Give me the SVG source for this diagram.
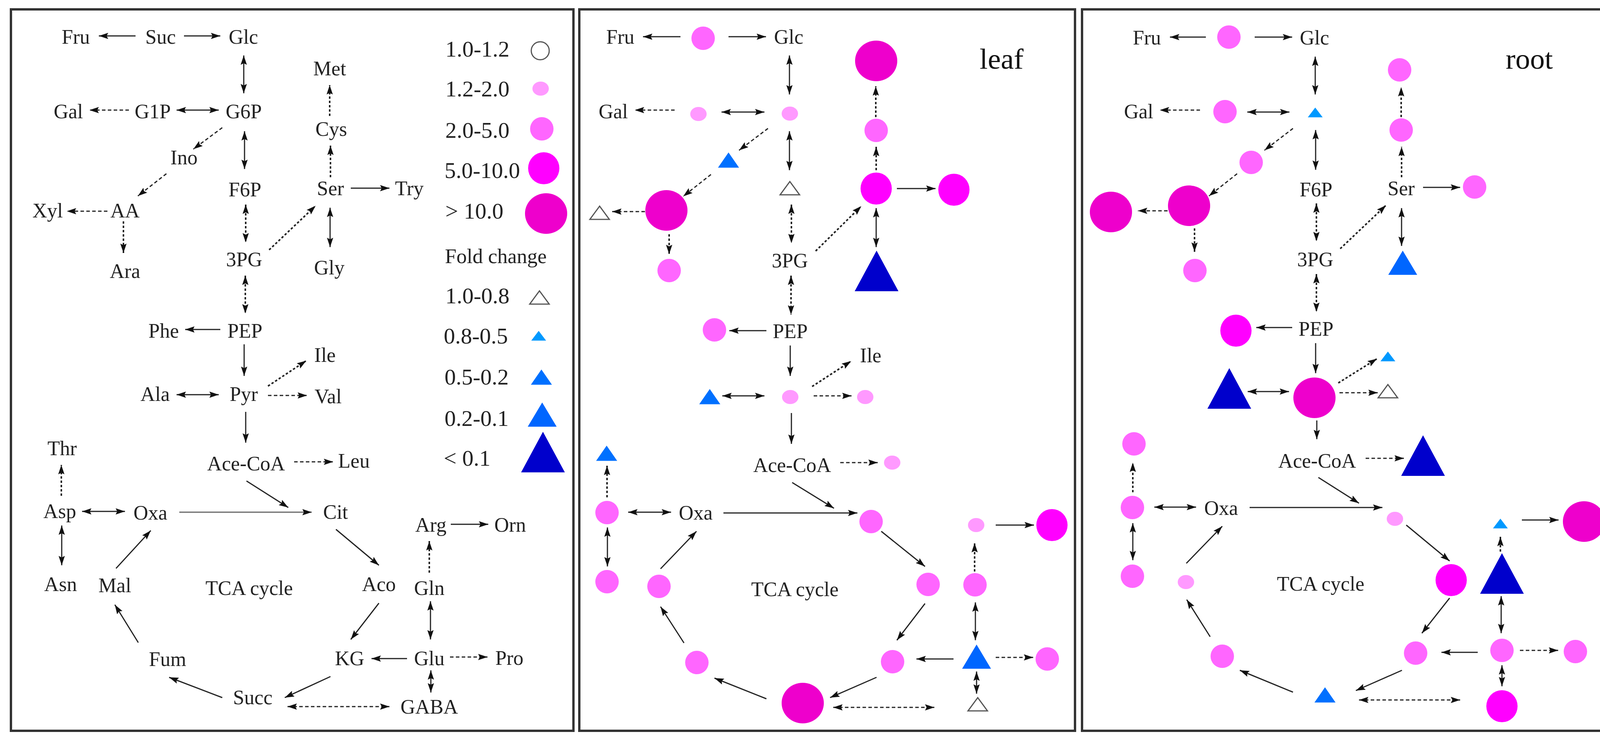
<svg xmlns="http://www.w3.org/2000/svg" xmlns:xlink="http://www.w3.org/1999/xlink" width="4151" height="1893" viewBox="0 0 4151 1893">
<style>
.t{font-family:"Liberation Serif","Times New Roman",serif;font-size:52px;fill:#222;text-anchor:middle}
.lg{font-family:"Liberation Serif","Times New Roman",serif;font-size:58px;fill:#222}
.fc{font-family:"Liberation Serif","Times New Roman",serif;font-size:53px;fill:#222}
.big{font-family:"Liberation Serif","Times New Roman",serif;font-size:75px;fill:#111;text-anchor:middle}
.panel{fill:#fff;stroke:#333;stroke-width:6}
line{stroke:#222;stroke-width:3;fill:none}
.g{stroke:#666}
.d{stroke-dasharray:9 6}
.o{stroke-dasharray:6 5;stroke-width:4}
.a{marker-end:url(#ah)}
.b{marker-start:url(#ah);marker-end:url(#ah)}
</style>
<defs>
<marker id="ah" viewBox="0 0 24 16" refX="24" refY="8" markerWidth="24" markerHeight="16" markerUnits="userSpaceOnUse" orient="auto-start-reverse">
<path d="M0,0 L24,8 L0,16 L4,8 z" fill="#111" stroke="none"/>
</marker>
<ellipse id="c1" rx="23" ry="23" fill="#fff" stroke="#555" stroke-width="3"/>
<ellipse id="c2" rx="21" ry="18" fill="#ff99ff"/>
<ellipse id="c3" rx="30" ry="30" fill="#ff66ff"/>
<ellipse id="c4" rx="40" ry="41" fill="#ff00ff"/>
<ellipse id="c5" rx="54" ry="52" fill="#ee00cc"/>
<polygon id="t0" points="-25,17 25,17 0,-17" fill="#fff" stroke="#555" stroke-width="3"/>
<polygon id="t1" points="-19,12.5 19,12.5 0,-12.5" fill="#0099ff"/>
<polygon id="t2" points="-27,19.5 27,19.5 0,-19.5" fill="#0070ff"/>
<polygon id="t3" points="-37,31 37,31 0,-31" fill="#0066ff"/>
<polygon id="t4" points="-56,52 56,52 0,-52" fill="#0000cc"/>
</defs>
<rect width="4151" height="1893" fill="#fff"/>
<rect class="panel" x="28" y="24" width="1440" height="1848"/>
<rect class="panel" x="1483" y="24" width="1269" height="1848"/>
<rect class="panel" x="2770" y="24" width="1356" height="1848"/>

<!-- ================= PANEL 1 ================= -->
<g id="p1-nodes">
<g id="p1-Fru"><text class="t" x="194" y="112">Fru</text></g>
<g id="p1-Suc"><text class="t" x="411" y="112">Suc</text></g>
<g id="p1-Glc"><text class="t" x="623" y="112">Glc</text></g>
<g id="p1-Gal"><text class="t" x="175" y="303">Gal</text></g>
<g id="p1-G1P"><text class="t" x="391" y="303">G1P</text></g>
<g id="p1-G6P"><text class="t" x="624" y="303">G6P</text></g>
<g id="p1-Ino"><text class="t" x="471" y="421">Ino</text></g>
<g id="p1-F6P"><text class="t" x="627" y="503">F6P</text></g>
<g id="p1-AA"><text class="t" x="320" y="557">AA</text></g>
<g id="p1-Xyl"><text class="t" x="122" y="557">Xyl</text></g>
<g id="p1-Ara"><text class="t" x="320" y="712">Ara</text></g>
<g id="p1-3PG"><text class="t" x="625" y="682">3PG</text></g>
<g id="p1-PEP"><text class="t" x="627" y="865">PEP</text></g>
<g id="p1-Phe"><text class="t" x="419" y="865">Phe</text></g>
<g id="p1-Met"><text class="t" x="844" y="193">Met</text></g>
<g id="p1-Cys"><text class="t" x="848" y="348">Cys</text></g>
<g id="p1-Ser"><text class="t" x="846" y="500">Ser</text></g>
<g id="p1-Try"><text class="t" x="1048" y="500">Try</text></g>
<g id="p1-Gly"><text class="t" x="843" y="703">Gly</text></g>
<g id="p1-Ile"><text class="t" x="832" y="927">Ile</text></g>
<g id="p1-Val"><text class="t" x="840" y="1033">Val</text></g>
<g id="p1-Ala"><text class="t" x="397" y="1027">Ala</text></g>
<g id="p1-Pyr"><text class="t" x="624" y="1027">Pyr</text></g>
<g id="p1-AceCoA"><text class="t" x="630" y="1205">Ace-CoA</text></g>
<g id="p1-Leu"><text class="t" x="906" y="1198">Leu</text></g>
<g id="p1-Thr"><text class="t" x="159" y="1166">Thr</text></g>
<g id="p1-Asp"><text class="t" x="153" y="1327">Asp</text></g>
<g id="p1-Oxa"><text class="t" x="385" y="1331">Oxa</text></g>
<g id="p1-Cit"><text class="t" x="859" y="1329">Cit</text></g>
<g id="p1-Asn"><text class="t" x="155" y="1514">Asn</text></g>
<g id="p1-Mal"><text class="t" x="294" y="1517">Mal</text></g>
<g id="p1-TCA"><text class="t" x="638" y="1524">TCA cycle</text></g>
<g id="p1-Aco"><text class="t" x="970" y="1514">Aco</text></g>
<g id="p1-Gln"><text class="t" x="1099" y="1524">Gln</text></g>
<g id="p1-Arg"><text class="t" x="1103" y="1362">Arg</text></g>
<g id="p1-Orn"><text class="t" x="1306" y="1362">Orn</text></g>
<g id="p1-KG"><text class="t" x="895" y="1704">KG</text></g>
<g id="p1-Glu"><text class="t" x="1099" y="1704">Glu</text></g>
<g id="p1-Pro"><text class="t" x="1304" y="1703">Pro</text></g>
<g id="p1-Fum"><text class="t" x="429" y="1706">Fum</text></g>
<g id="p1-Succ"><text class="t" x="647" y="1804">Succ</text></g>
<g id="p1-GABA"><text class="t" x="1099" y="1828">GABA</text></g>
</g>

<g id="legend">
<text class="lg" x="1140" y="145">1.0-1.2</text><use href="#c1" x="1383" y="130"/>
<text class="lg" x="1140" y="247">1.2-2.0</text><use href="#c2" x="1384" y="227"/>
<text class="lg" x="1140" y="353">2.0-5.0</text><use href="#c3" x="1387" y="330"/>
<text class="lg" x="1138" y="456">5.0-10.0</text><use href="#c4" x="1392" y="431"/>
<text class="lg" x="1140" y="560">&gt; 10.0</text><use href="#c5" x="1398" y="547"/>
<text class="fc" x="1139" y="674">Fold change</text>
<text class="lg" x="1140" y="777">1.0-0.8</text><use href="#t0" x="1381" y="762"/>
<text class="lg" x="1136" y="880">0.8-0.5</text><use href="#t1" x="1379" y="860"/>
<text class="lg" x="1138" y="985">0.5-0.2</text><use href="#t2" x="1386" y="966"/>
<text class="lg" x="1138" y="1091">0.2-0.1</text><use href="#t3" x="1388" y="1062"/>
<text class="lg" x="1136" y="1193">&lt; 0.1</text><use href="#t4" x="1390" y="1158"/>
</g>

<!-- ================= PANEL 2 (leaf) ================= -->
<g id="p2-nodes">
<g id="p2-label"><text class="big" x="2564" y="176">leaf</text></g>
<g id="p2-Fru"><text class="t" x="1588" y="112">Fru</text></g>
<g id="p2-Suc"><use href="#c3" x="1800" y="98"/></g>
<g id="p2-Glc"><text class="t" x="2019" y="112">Glc</text></g>
<g id="p2-Gal"><text class="t" x="1570" y="303">Gal</text></g>
<g id="p2-G1P"><use href="#c2" x="1788" y="292"/></g>
<g id="p2-G6P"><use href="#c2" x="2022" y="291"/></g>
<g id="p2-Ino"><use href="#t2" x="1865" y="410"/></g>
<g id="p2-AA"><use href="#c5" x="1706" y="539"/></g>
<g id="p2-Xyl"><use href="#t0" x="1535" y="545"/></g>
<g id="p2-Ara"><use href="#c3" x="1713" y="693"/></g>
<g id="p2-F6P"><use href="#t0" x="2022" y="482"/></g>
<g id="p2-3PG"><text class="t" x="2022" y="685">3PG</text></g>
<g id="p2-PEP"><text class="t" x="2023" y="866">PEP</text></g>
<g id="p2-Phe"><use href="#c3" x="1829" y="845"/></g>
<g id="p2-Met"><use href="#c5" x="2243" y="156"/></g>
<g id="p2-Cys"><use href="#c3" x="2243" y="334"/></g>
<g id="p2-Ser"><use href="#c4" x="2243" y="483"/></g>
<g id="p2-Try"><use href="#c4" x="2442" y="486"/></g>
<g id="p2-Gly"><use href="#t4" x="2244" y="694"/></g>
<g id="p2-Pyr"><use href="#c2" x="2023" y="1017"/></g>
<g id="p2-Ala"><use href="#t2" x="1817" y="1016"/></g>
<g id="p2-Ile"><text class="t" x="2229" y="928">Ile</text></g>
<g id="p2-Val"><use href="#c2" x="2215" y="1017"/></g>
<g id="p2-AceCoA"><text class="t" x="2028" y="1209">Ace-CoA</text></g>
<g id="p2-Leu"><use href="#c2" x="2284" y="1185"/></g>
<g id="p2-Thr"><use href="#t2" x="1553" y="1161"/></g>
<g id="p2-Asp"><use href="#c3" x="1554" y="1313"/></g>
<g id="p2-Oxa"><text class="t" x="1781" y="1331">Oxa</text></g>
<g id="p2-Asn"><use href="#c3" x="1554" y="1490"/></g>
<g id="p2-Mal"><use href="#c3" x="1687" y="1502"/></g>
<g id="p2-TCA"><text class="t" x="2035" y="1527">TCA cycle</text></g>
<g id="p2-Fum"><use href="#c3" x="1784" y="1697"/></g>
<g id="p2-Succ"><use href="#c5" x="2055" y="1801"/></g>
<g id="p2-Cit"><use href="#c3" x="2230" y="1336"/></g>
<g id="p2-Aco"><use href="#c3" x="2376" y="1497"/></g>
<g id="p2-KG"><use href="#c3" x="2285" y="1695"/></g>
<g id="p2-Glu"><use href="#t3" x="2500" y="1682"/></g>
<g id="p2-Pro"><use href="#c3" x="2681" y="1688"/></g>
<g id="p2-Gln"><use href="#c3" x="2496" y="1498"/></g>
<g id="p2-Arg"><use href="#c2" x="2499" y="1345"/></g>
<g id="p2-Orn"><use href="#c4" x="2693" y="1345"/></g>
<g id="p2-GABA"><use href="#t0" x="2503" y="1804"/></g>
</g>

<!-- ================= PANEL 3 (root) ================= -->
<g id="p3-nodes">
<g id="p3-label"><text class="big" x="3915" y="176">root</text></g>
<g id="p3-Fru"><text class="t" x="2936" y="114">Fru</text></g>
<g id="p3-Suc"><use href="#c3" x="3146" y="95"/></g>
<g id="p3-Glc"><text class="t" x="3365" y="114">Glc</text></g>
<g id="p3-Gal"><text class="t" x="2915" y="303">Gal</text></g>
<g id="p3-G1P"><use href="#c3" x="3136" y="286"/></g>
<g id="p3-G6P"><use href="#t1" x="3367" y="288"/></g>
<g id="p3-Ino"><use href="#c3" x="3203" y="416"/></g>
<g id="p3-AA"><use href="#c5" x="3044" y="527"/></g>
<g id="p3-Xyl"><use href="#c5" x="2844" y="543"/></g>
<g id="p3-Ara"><use href="#c3" x="3059" y="693"/></g>
<g id="p3-F6P"><text class="t" x="3369" y="503">F6P</text></g>
<g id="p3-3PG"><text class="t" x="3367" y="682">3PG</text></g>
<g id="p3-PEP"><text class="t" x="3369" y="860">PEP</text></g>
<g id="p3-Phe"><use href="#c4" x="3164" y="847"/></g>
<g id="p3-Met"><use href="#c3" x="3583" y="179"/></g>
<g id="p3-Cys"><use href="#c3" x="3587" y="333"/></g>
<g id="p3-Ser"><text class="t" x="3587" y="500">Ser</text></g>
<g id="p3-Try"><use href="#c3" x="3775" y="479"/></g>
<g id="p3-Gly"><use href="#t3" x="3591" y="673"/></g>
<g id="p3-Pyr"><use href="#c5" x="3365" y="1019"/></g>
<g id="p3-Ala"><use href="#t4" x="3147" y="995"/></g>
<g id="p3-Ile"><use href="#t1" x="3553" y="913"/></g>
<g id="p3-Val"><use href="#t0" x="3553" y="1002"/></g>
<g id="p3-AceCoA"><text class="t" x="3372" y="1198">Ace-CoA</text></g>
<g id="p3-Leu"><use href="#t4" x="3643" y="1167"/></g>
<g id="p3-Thr"><use href="#c3" x="2903" y="1137"/></g>
<g id="p3-Asp"><use href="#c3" x="2899" y="1300"/></g>
<g id="p3-Oxa"><text class="t" x="3126" y="1319">Oxa</text></g>
<g id="p3-Asn"><use href="#c3" x="2899" y="1476"/></g>
<g id="p3-Mal"><use href="#c2" x="3036" y="1491"/></g>
<g id="p3-TCA"><text class="t" x="3381" y="1513">TCA cycle</text></g>
<g id="p3-Fum"><use href="#c3" x="3129" y="1681"/></g>
<g id="p3-Succ"><use href="#t2" x="3392" y="1780"/></g>
<g id="p3-Cit"><use href="#c2" x="3571" y="1329"/></g>
<g id="p3-Aco"><use href="#c4" x="3715" y="1486"/></g>
<g id="p3-KG"><use href="#c3" x="3624" y="1673"/></g>
<g id="p3-Glu"><use href="#c3" x="3845" y="1666"/></g>
<g id="p3-Pro"><use href="#c3" x="4033" y="1669"/></g>
<g id="p3-Gln"><use href="#t4" x="3845" y="1469"/></g>
<g id="p3-Arg"><use href="#t1" x="3841" y="1341"/></g>
<g id="p3-Orn"><use href="#c5" x="4055" y="1336"/></g>
<g id="p3-GABA"><use href="#c4" x="3845" y="1809"/></g>
</g>

<!-- ================= CONNECTORS ================= -->
<g id="connectors">
<!-- panel 1 -->
<line class="a" x1="347" y1="92" x2="253" y2="92"/>
<line class="a" x1="471" y1="92" x2="564" y2="92"/>
<line class="b" x1="624" y1="142" x2="624" y2="239"/>
<line class="a d" x1="330" y1="282" x2="229" y2="282"/>
<line class="b" x1="452" y1="282" x2="560" y2="282"/>
<line class="a d" x1="569" y1="327" x2="495" y2="382"/>
<line class="a d" x1="426" y1="445" x2="353" y2="502"/>
<line class="a d" x1="275" y1="541" x2="171" y2="541"/>
<line class="a o" x1="316" y1="567" x2="316" y2="648"/>
<line class="b" x1="626" y1="336" x2="626" y2="433"/>
<line class="b o" x1="629" y1="524" x2="629" y2="621"/>
<line class="a o" x1="689" y1="640" x2="808" y2="527"/>
<line class="b o" x1="628" y1="706" x2="628" y2="803"/>
<line class="a" x1="564" y1="844" x2="474" y2="844"/>
<line class="a" x1="625" y1="882" x2="625" y2="963"/>
<line class="a o" x1="846" y1="454" x2="846" y2="373"/>
<line class="a o" x1="844" y1="297" x2="844" y2="218"/>
<line class="a" x1="898" y1="482" x2="997" y2="482"/>
<line class="b" x1="845" y1="532" x2="845" y2="633"/>
<line class="b" x1="452" y1="1011" x2="560" y2="1011"/>
<line class="a o" x1="686" y1="989" x2="784" y2="924"/>
<line class="a d" x1="686" y1="1013" x2="786" y2="1013"/>
<line class="a" x1="629" y1="1055" x2="629" y2="1134"/>
<line class="a d" x1="753" y1="1183" x2="853" y2="1183"/>
<line class="a" x1="631" y1="1232" x2="738" y2="1300"/>
<line class="a g" x1="459" y1="1312" x2="798" y2="1312"/>
<line class="a o" x1="157" y1="1270" x2="157" y2="1191"/>
<line class="b" x1="210" y1="1310" x2="320" y2="1310"/>
<line class="b" x1="158" y1="1346" x2="158" y2="1448"/>
<line class="a" x1="297" y1="1456" x2="386" y2="1359"/>
<line class="a" x1="354" y1="1646" x2="294" y2="1549"/>
<line class="a" x1="569" y1="1787" x2="433" y2="1735"/>
<line class="a" x1="846" y1="1733" x2="729" y2="1787"/>
<line class="a" x1="970" y1="1545" x2="898" y2="1638"/>
<line class="a" x1="860" y1="1356" x2="970" y2="1448"/>
<line class="a" x1="1042" y1="1687" x2="951" y2="1687"/>
<line class="a d" x1="1152" y1="1683" x2="1248" y2="1683"/>
<line class="b" x1="1102" y1="1540" x2="1102" y2="1638"/>
<line class="a o" x1="1099" y1="1467" x2="1099" y2="1386"/>
<line class="a" x1="1154" y1="1343" x2="1250" y2="1343"/>
<line class="b" x1="1103" y1="1717" x2="1103" y2="1774"/>
<line class="b d" x1="736" y1="1810" x2="997" y2="1810"/>
<!-- panel 2 -->
<line class="a" x1="1742" y1="94" x2="1646" y2="94"/>
<line class="a" x1="1865" y1="94" x2="1961" y2="94"/>
<line class="b" x1="2021" y1="142" x2="2021" y2="242"/>
<line class="a d" x1="1727" y1="282" x2="1625" y2="282"/>
<line class="b" x1="1847" y1="287" x2="1957" y2="287"/>
<line class="a d" x1="1966" y1="329" x2="1892" y2="385"/>
<line class="a d" x1="1820" y1="447" x2="1749" y2="503"/>
<line class="a d" x1="1651" y1="542" x2="1567" y2="542"/>
<line class="a o" x1="1713" y1="600" x2="1713" y2="651"/>
<line class="b" x1="2021" y1="336" x2="2021" y2="436"/>
<line class="b o" x1="2026" y1="524" x2="2026" y2="623"/>
<line class="a o" x1="2088" y1="643" x2="2205" y2="528"/>
<line class="b o" x1="2025" y1="706" x2="2025" y2="806"/>
<line class="a" x1="1962" y1="847" x2="1867" y2="847"/>
<line class="a" x1="2023" y1="885" x2="2023" y2="963"/>
<line class="a o" x1="2243" y1="436" x2="2243" y2="376"/>
<line class="a o" x1="2242" y1="300" x2="2242" y2="221"/>
<line class="a" x1="2296" y1="483" x2="2395" y2="483"/>
<line class="b" x1="2243" y1="533" x2="2243" y2="633"/>
<line class="b" x1="1849" y1="1014" x2="1957" y2="1014"/>
<line class="a o" x1="2079" y1="990" x2="2179" y2="925"/>
<line class="a d" x1="2083" y1="1014" x2="2180" y2="1014"/>
<line class="a" x1="2026" y1="1058" x2="2026" y2="1137"/>
<line class="a d" x1="2151" y1="1185" x2="2247" y2="1185"/>
<line class="a" x1="2028" y1="1236" x2="2135" y2="1302"/>
<line class="a" x1="1852" y1="1314" x2="2195" y2="1314"/>
<line class="a o" x1="1554" y1="1274" x2="1554" y2="1193"/>
<line class="b" x1="1608" y1="1312" x2="1718" y2="1312"/>
<line class="b" x1="1555" y1="1351" x2="1555" y2="1451"/>
<line class="a" x1="1691" y1="1457" x2="1783" y2="1361"/>
<line class="a" x1="1751" y1="1647" x2="1691" y2="1554"/>
<line class="a" x1="1962" y1="1790" x2="1829" y2="1737"/>
<line class="a" x1="2244" y1="1735" x2="2125" y2="1787"/>
<line class="a" x1="2368" y1="1546" x2="2296" y2="1640"/>
<line class="a" x1="2256" y1="1361" x2="2368" y2="1451"/>
<line class="a" x1="2441" y1="1688" x2="2346" y2="1688"/>
<line class="a d" x1="2549" y1="1684" x2="2645" y2="1684"/>
<line class="b" x1="2497" y1="1543" x2="2497" y2="1640"/>
<line class="a o" x1="2495" y1="1464" x2="2495" y2="1391"/>
<line class="a" x1="2549" y1="1345" x2="2647" y2="1345"/>
<line class="b" x1="2500" y1="1720" x2="2500" y2="1777"/>
<line class="b d" x1="2133" y1="1812" x2="2392" y2="1812"/>
<!-- panel 3 -->
<line class="a" x1="3087" y1="95" x2="2995" y2="95"/>
<line class="a" x1="3212" y1="95" x2="3308" y2="95"/>
<line class="b" x1="3367" y1="145" x2="3367" y2="242"/>
<line class="a d" x1="3072" y1="282" x2="2969" y2="282"/>
<line class="b" x1="3193" y1="287" x2="3301" y2="287"/>
<line class="a d" x1="3310" y1="329" x2="3237" y2="385"/>
<line class="a d" x1="3167" y1="445" x2="3095" y2="502"/>
<line class="a d" x1="2989" y1="540" x2="2913" y2="540"/>
<line class="a o" x1="3058" y1="585" x2="3058" y2="645"/>
<line class="b" x1="3368" y1="333" x2="3368" y2="435"/>
<line class="b o" x1="3370" y1="521" x2="3370" y2="618"/>
<line class="a o" x1="3431" y1="637" x2="3548" y2="526"/>
<line class="b o" x1="3370" y1="702" x2="3370" y2="799"/>
<line class="a" x1="3308" y1="839" x2="3216" y2="839"/>
<line class="a" x1="3368" y1="879" x2="3368" y2="956"/>
<line class="a o" x1="3588" y1="454" x2="3588" y2="376"/>
<line class="a o" x1="3587" y1="300" x2="3587" y2="223"/>
<line class="a" x1="3643" y1="480" x2="3738" y2="480"/>
<line class="b" x1="3588" y1="533" x2="3588" y2="630"/>
<line class="b" x1="3194" y1="1003" x2="3300" y2="1003"/>
<line class="a o" x1="3426" y1="981" x2="3525" y2="919"/>
<line class="a d" x1="3429" y1="1006" x2="3527" y2="1006"/>
<line class="a" x1="3371" y1="1077" x2="3371" y2="1125"/>
<line class="a d" x1="3496" y1="1174" x2="3594" y2="1174"/>
<line class="a" x1="3375" y1="1223" x2="3479" y2="1289"/>
<line class="a" x1="3199" y1="1300" x2="3539" y2="1300"/>
<line class="a o" x1="2900" y1="1261" x2="2900" y2="1185"/>
<line class="b" x1="2955" y1="1299" x2="3062" y2="1299"/>
<line class="b" x1="2900" y1="1340" x2="2900" y2="1435"/>
<line class="a" x1="3037" y1="1443" x2="3129" y2="1348"/>
<line class="a" x1="3098" y1="1631" x2="3038" y2="1536"/>
<line class="a" x1="3310" y1="1773" x2="3174" y2="1717"/>
<line class="a" x1="3589" y1="1717" x2="3471" y2="1769"/>
<line class="a" x1="3711" y1="1532" x2="3640" y2="1622"/>
<line class="a" x1="3600" y1="1345" x2="3711" y2="1437"/>
<line class="a" x1="3783" y1="1671" x2="3690" y2="1671"/>
<line class="a d" x1="3891" y1="1666" x2="3989" y2="1666"/>
<line class="b" x1="3843" y1="1527" x2="3843" y2="1622"/>
<line class="a o" x1="3841" y1="1413" x2="3841" y2="1375"/>
<line class="a" x1="3896" y1="1332" x2="3990" y2="1332"/>
<line class="b" x1="3845" y1="1704" x2="3845" y2="1758"/>
<line class="b d" x1="3479" y1="1793" x2="3738" y2="1793"/>
</g>
</svg>
